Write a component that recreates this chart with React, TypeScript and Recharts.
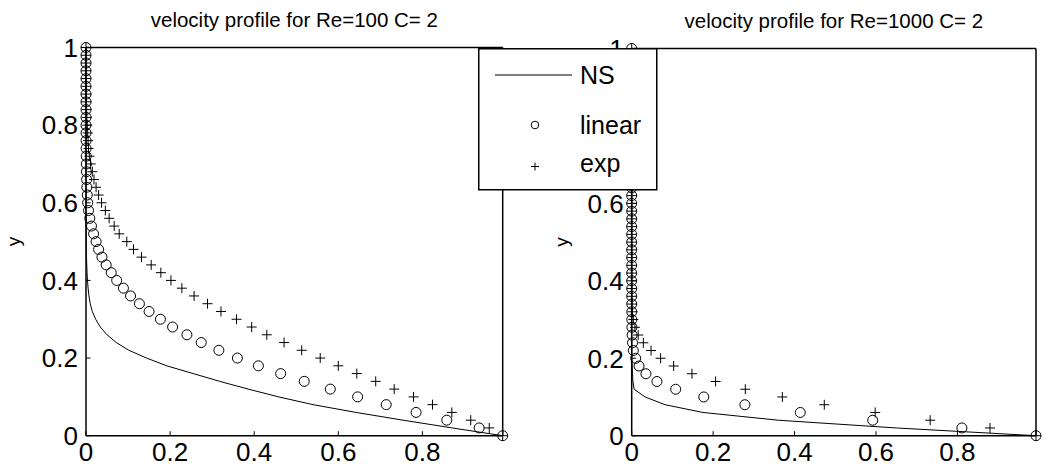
import React from 'react';
import { ScatterChart, Scatter, XAxis, YAxis } from 'recharts';

// y grid (shared by all series)
const yGrid = [0, 0.02, 0.04, 0.06, 0.08, 0.1, 0.12, 0.14, 0.16, 0.18, 0.2, 0.22, 0.24, 0.26, 0.28, 0.3, 0.32, 0.34, 0.36, 0.38, 0.4, 0.42, 0.44, 0.46, 0.48, 0.5, 0.52, 0.54, 0.56, 0.58, 0.6, 0.62, 0.64, 0.66, 0.68, 0.7, 0.72, 0.74, 0.76, 0.78, 0.8, 0.82, 0.84, 0.86, 0.88, 0.9, 0.92, 0.94, 0.96, 0.98, 1];

// Re=100
const nsLeft = [0.991, 0.871, 0.754, 0.642, 0.54, 0.458, 0.386, 0.318, 0.255, 0.192, 0.144, 0.102, 0.072, 0.05, 0.034, 0.023, 0.015, 0.01, 0.007, 0.005, 0.0035, 0.0025, 0.0018, 0.0012, 0.0008, 0.0005, 0.0003, 0.0002, 0.0001,
  0, 0, 0, 0, 0, 0, 0, 0, 0, 0, 0,
  0, 0, 0, 0, 0, 0, 0, 0, 0, 0, 0];
const linearLeft = [0.991, 0.935, 0.858, 0.785, 0.714, 0.646, 0.581, 0.519, 0.463, 0.41, 0.36, 0.316, 0.274, 0.24, 0.206, 0.177, 0.15, 0.127, 0.106, 0.089, 0.073, 0.06, 0.048, 0.038, 0.03, 0.024, 0.018, 0.013, 0.009, 0.006, 0.004, 0.003, 0.002, 0.0015, 0.001, 0.0007, 0.0005, 0.0003, 0.0002, 0.0001,
  0, 0, 0, 0, 0, 0, 0, 0, 0, 0, 0];
const expLeft = [0.991, 0.959, 0.915, 0.87, 0.824, 0.779, 0.733, 0.689, 0.644, 0.6, 0.557, 0.513, 0.471, 0.43, 0.394, 0.358, 0.321, 0.289, 0.257, 0.228, 0.202, 0.178, 0.155, 0.132, 0.113, 0.097, 0.079, 0.067, 0.055, 0.046, 0.037, 0.03, 0.024, 0.019, 0.015, 0.011, 0.008, 0.006, 0.005, 0.004, 0.003, 0.002, 0.0015, 0.001, 0.0007, 0.0005, 0.0003, 0.0002, 0.0001, 0, 0];

// Re=1000
const nsRight = [0.993, 0.65, 0.36, 0.175, 0.082, 0.033, 0.006, 0.003, 0.002, 0.001, 0.0005, 0.0003, 0.0002, 0.0001,
  0, 0, 0, 0, 0, 0, 0, 0, 0, 0, 0,
  0, 0, 0, 0, 0, 0, 0, 0, 0, 0, 0,
  0, 0, 0, 0, 0, 0, 0, 0, 0, 0, 0,
  0, 0, 0, 0];
const linearRight = [0.993, 0.811, 0.592, 0.414, 0.278, 0.177, 0.108, 0.062, 0.035, 0.018, 0.0098, 0.004, 0.002, 0.001, 0.0005, 0.0003, 0.0002, 0.0001,
  0, 0, 0, 0, 0, 0, 0, 0, 0, 0, 0,
  0, 0, 0, 0, 0, 0, 0, 0, 0, 0, 0,
  0, 0, 0, 0, 0, 0, 0, 0, 0, 0, 0];
const expRight = [0.993, 0.88, 0.733, 0.598, 0.473, 0.37, 0.279, 0.206, 0.148, 0.103, 0.071, 0.0475, 0.0286, 0.016, 0.008, 0.004, 0.002, 0.001, 0.0005, 0.0003, 0.0002, 0.0001,
  0, 0, 0, 0, 0, 0, 0, 0, 0, 0, 0,
  0, 0, 0, 0, 0, 0, 0, 0, 0, 0, 0,
  0, 0, 0, 0, 0, 0, 0];

const xTicks = [0, 0.2, 0.4, 0.6, 0.8];
const yTicks = [0, 0.2, 0.4, 0.6, 0.8, 1];
const seriesNames = ['NS', 'linear', 'exp'];
const titles = ['velocity profile for Re=100 C= 2', 'velocity profile for Re=1000 C= 2'];
const yLabel = 'y';
const xMaxLeft = 0.991;
const xMaxRight = 0.993;

const FONT = '"Liberation Sans", Arial, Helvetica, sans-serif';
const TICK_FS = 26;
const TICK_LEN = 4.5;
const AXIS = { stroke: '#000', strokeWidth: 1.5 };
const MK = 5;

const toPoints = (xs: number[]) => xs.map((x, i) => ({ x, y: yGrid[i] }));

const BottomTick = (p: any) => (
  <g>
    <line x1={p.x} x2={p.x} y1={p.y} y2={p.y - TICK_LEN} stroke="#000" strokeWidth={1} />
    <text x={p.x} y={p.y + 25} textAnchor="middle" fontSize={TICK_FS} fontFamily={FONT} fill="#000">
      {String(p.payload.value)}
    </text>
  </g>
);
const TopTick = (p: any) => (
  <line x1={p.x} x2={p.x} y1={p.y} y2={p.y + TICK_LEN} stroke="#000" strokeWidth={1} />
);
const LeftTick = (p: any) => (
  <g>
    <line x1={p.x} x2={p.x + TICK_LEN} y1={p.y} y2={p.y} stroke="#000" strokeWidth={1} />
    <text x={p.x - 8} y={p.y + 9.3} textAnchor="end" fontSize={TICK_FS} fontFamily={FONT} fill="#000">
      {String(p.payload.value)}
    </text>
  </g>
);
const RightTick = (p: any) => (
  <line x1={p.x} x2={p.x - TICK_LEN} y1={p.y} y2={p.y} stroke="#000" strokeWidth={1} />
);

const CircleShape = (p: any) => (
  <circle cx={p.cx} cy={p.cy} r={MK} fill="none" stroke="#000" strokeWidth={1} />
);
const PlusShape = (p: any) => (
  <g>
    <line x1={p.cx - MK} x2={p.cx + MK} y1={p.cy} y2={p.cy} stroke="#000" strokeWidth={1} />
    <line x1={p.cx} x2={p.cx} y1={p.cy - MK} y2={p.cy + MK} stroke="#000" strokeWidth={1} />
  </g>
);
const NoShape = () => <g />;

type PanelProps = {
  left: number;
  width: number;
  yAxisWidth: number;
  marginTop: number;
  marginRight: number;
  title: string;
  ns: number[];
  lin: number[];
  ex: number[];
  xMax: number;
  labelX: number;
};

function Panel({ left, width, yAxisWidth, marginTop, marginRight, title, ns, lin, ex, xMax, labelX }: PanelProps) {
  return (
    <div style={{ position: 'absolute', left, top: 0 }}>
      <ScatterChart width={width} height={475} margin={{ top: marginTop, right: marginRight, bottom: 0, left: 0 }}>
        <XAxis
          xAxisId="b"
          type="number"
          dataKey="x"
          domain={[0, xMax]}
          ticks={xTicks}
          interval={0}
          orientation="bottom"
          height={39.3}
          tickSize={0}
          tickMargin={0}
          tickLine={false}
          axisLine={AXIS}
          tick={BottomTick}
        />
        <XAxis
          xAxisId="t"
          type="number"
          dataKey="x"
          domain={[0, xMax]}
          ticks={xTicks}
          interval={0}
          orientation="top"
          height={1}
          tickSize={0}
          tickMargin={0}
          tickLine={false}
          axisLine={AXIS}
          tick={TopTick}
          label={{
            content: (props: any) => {
              const vb = props.viewBox || {};
              const cx = (vb.x ?? 0) + (vb.width ?? 0) / 2;
              const by = (vb.y ?? 0) + (vb.height ?? 0) - 20.5;
              return (
                <text x={cx} y={by} textAnchor="middle" fontSize={20.5} fontFamily={FONT} fill="#000">
                  {title}
                </text>
              );
            },
          }}
        />
        <YAxis
          yAxisId="l"
          type="number"
          dataKey="y"
          domain={[0, 1]}
          ticks={yTicks}
          interval={0}
          orientation="left"
          width={yAxisWidth}
          tickSize={0}
          tickMargin={0}
          tickLine={false}
          axisLine={AXIS}
          tick={LeftTick}
          label={{
            content: (props: any) => {
              const vb = props.viewBox;
              const cx = vb.x + labelX;
              const cy = vb.y + vb.height / 2;
              return (
                <text x={cx} y={cy} transform={`rotate(-90 ${cx} ${cy})`} textAnchor="middle" fontSize={19} fontFamily={FONT} fill="#000">
                  {yLabel}
                </text>
              );
            },
          }}
        />
        <YAxis
          yAxisId="r"
          type="number"
          dataKey="y"
          domain={[0, 1]}
          ticks={yTicks}
          interval={0}
          orientation="right"
          width={1}
          tickSize={0}
          tickMargin={0}
          tickLine={false}
          axisLine={AXIS}
          tick={RightTick}
        />
        <Scatter
          name={seriesNames[0]}
          xAxisId="b"
          yAxisId="l"
          data={toPoints(ns)}
          line={{ stroke: '#000', strokeWidth: 1 }}
          lineType="joint"
          shape={NoShape}
          isAnimationActive={false}
        />
        <Scatter name={seriesNames[1]} xAxisId="b" yAxisId="l" data={toPoints(lin)} shape={CircleShape} isAnimationActive={false} />
        <Scatter name={seriesNames[2]} xAxisId="b" yAxisId="l" data={toPoints(ex)} shape={PlusShape} isAnimationActive={false} />
      </ScatterChart>
    </div>
  );
}

function LegendBox() {
  return (
    <div style={{ position: 'absolute', left: 478, top: 48, width: 180, height: 143 }}>
      <svg width={180} height={143}>
        <rect x={0.75} y={0.75} width={178} height={141} fill="#fff" stroke="#000" strokeWidth={1.5} />
        <line x1={17} x2={94} y1={27} y2={27} stroke="#000" strokeWidth={1} />
        <text x={102} y={36} fontSize={25} fontFamily={FONT} fill="#000">{seriesNames[0]}</text>
        <circle cx={57} cy={77} r={3.8} fill="none" stroke="#000" strokeWidth={1} />
        <text x={102} y={86} fontSize={25} fontFamily={FONT} fill="#000">{seriesNames[1]}</text>
        <line x1={53} x2={61} y1={118.5} y2={118.5} stroke="#000" strokeWidth={1} />
        <line x1={57} x2={57} y1={114.5} y2={122.5} stroke="#000" strokeWidth={1} />
        <text x={102} y={124} fontSize={25} fontFamily={FONT} fill="#000">{seriesNames[2]}</text>
      </svg>
    </div>
  );
}

export default function App() {
  return (
    <div style={{ position: 'absolute', left: 0, top: 0, width: 1059, height: 475, background: '#fff', fontFamily: FONT }}>
      <Panel left={0} width={530} yAxisWidth={86} marginTop={46.5} marginRight={26.3} title={titles[0]} ns={nsLeft} lin={linearLeft} ex={expLeft} xMax={xMaxLeft} labelX={20} />
      <Panel left={540} width={519} yAxisWidth={91.7} marginTop={47.5} marginRight={22} title={titles[1]} ns={nsRight} lin={linearRight} ex={expRight} xMax={xMaxRight} labelX={28} />
      <LegendBox />
    </div>
  );
}
